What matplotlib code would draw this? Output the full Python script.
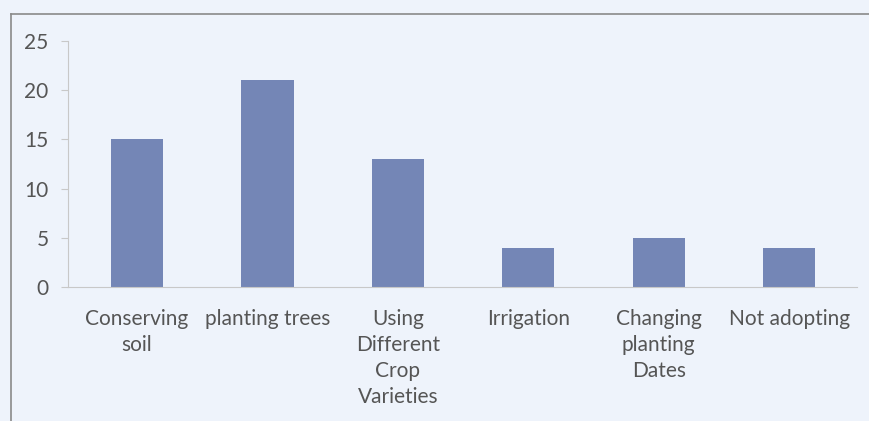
import matplotlib
matplotlib.use("Agg")
from matplotlib import pyplot as plt
from matplotlib.lines import Line2D
import numpy as np

# data
categories = ["Conserving\nsoil", "planting trees", "Using\nDifferent\nCrop\nVarieties",
              "Irrigation", "Changing\nplanting\nDates", "Not adopting"]
counts = [15, 21, 13, 4, 5, 4]
y_ticks = [0, 5, 10, 15, 20, 25]

plt.rcParams["font.family"] = ["Lato", "DejaVu Sans"]

fig = plt.figure(figsize=(8.7, 4.21), dpi=100, facecolor="#eef3fb")
ax = fig.add_axes([68 / 870, 1 - 287 / 421, (857 - 68) / 870, (287 - 41) / 421])
ax.set_facecolor("none")

x = np.arange(len(categories))
ax.bar(x, counts, width=0.4, color="#7486b6", zorder=2)

ax.set_xlim(-0.53, 5.52)
ax.set_ylim(0, 25)
ax.set_yticks(y_ticks)
ax.set_xticks(x)
ax.set_xticklabels(categories, fontsize=15, color="#555555", linespacing=1.38)
ax.tick_params(axis="y", labelsize=15, labelcolor="#555555", color="#c8c8c8", length=5, pad=9)
ax.tick_params(axis="x", length=0, pad=16)

for side in ["top", "right"]:
    ax.spines[side].set_visible(False)
ax.spines["left"].set_color("#c8c8c8")
ax.spines["bottom"].set_color("#c8c8c8")

# outer chart frame (left and top edges visible in the scan)
fig.add_artist(Line2D([11 / 870, 11 / 870], [0, 1 - 14 / 421], color="#8a8a8a", lw=1.2))
fig.add_artist(Line2D([11 / 870, 1], [1 - 14 / 421, 1 - 14 / 421], color="#8a8a8a", lw=1.2))

fig.savefig("out.png", dpi=100, facecolor=fig.get_facecolor())
